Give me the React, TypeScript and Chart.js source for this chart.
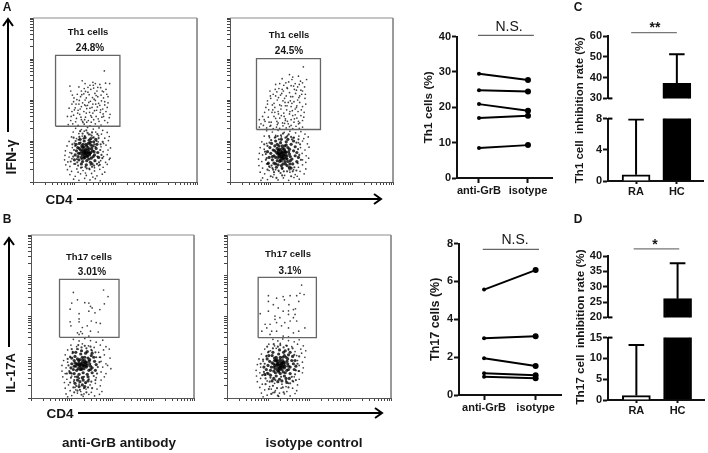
import React, { useEffect, useRef } from "react";
import { Chart, registerables } from "chart.js";

Chart.register(...registerables);
Chart.defaults.font.family = "'Liberation Sans', Arial, sans-serif";

// ---------- paired lines ----------
const pairLabels = ["anti-GrB", "isotype"];
const th1AntiGrb = [29.5, 24.8, 20.9, 17.0, 8.5];
const th1Isotype = [27.7, 24.5, 19.0, 17.6, 9.3];
const th17AntiGrb = [5.57, 3.0, 1.94, 1.15, 0.97];
const th17Isotype = [6.6, 3.1, 1.53, 1.04, 0.89];

// ---------- broken-axis bars ----------
const barLabels = ["RA", "HC"];
const th1RateMean = [0.8, 37.2];
const th1RateUpper = [7.9, 51.2];
const th17RateMean = [1.06, 26.1];
const th17RateUpper = [13.2, 37.6];

// ---------- flow gates, [low, high] in hundredths of a log10 decade ----------
const gateA1 = { x: [55, 212], y: [136, 309] };
const gateA2 = { x: [65, 222], y: [128, 301] };
const gateB1 = { x: [70, 216], y: [149, 291] };
const gateB2 = { x: [76, 218], y: [148, 296] };

// ---------- flow events, [x, y] in hundredths of a log10 decade ----------
// The Th17 gate dots are read one by one; the dense
// clouds hold a hand-placed sample following the shape of the originals, not every event.
const a1Gate = [[174,271],[120,247],[127,240],[146,243],[152,240],[163,238],[177,241],[187,240],[90,234],[92,222],[112,232],[118,222],[125,228],[134,231],[141,226],[148,229],[156,222],[165,230],[172,220],[178,226],[96,212],[108,214],[116,208],[124,215],[130,205],[137,213],[145,206],[151,216],[158,208],[166,212],[172,205],[180,214],[99,196],[105,190],[113,199],[121,193],[127,200],[133,187],[140,197],[146,190],[152,199],[160,192],[167,198],[175,188],[183,193],[88,180],[95,172],[103,181],[110,175],[118,184],[124,172],[131,179],[138,170],[144,182],[150,174],[157,183],[164,170],[170,178],[178,172],[188,165],[84,160],[92,150],[99,163],[106,155],[114,165],[121,148],[128,158],[135,150],[141,162],[148,152],[154,160],[161,148],[168,158],[175,150],[182,145],[86,140],[97,142],[110,138],[125,141],[139,137],[152,142],[166,139],[118,152],[130,168],[143,158],[112,190],[139,180],[126,188],[155,175],[101,176],[115,178],[129,186],[136,194],[149,202],[163,187],[171,166],[181,182],[93,160],[104,147],[117,158],[131,146],[146,168],[159,154],[172,160],[186,157],[107,201],[119,213],[128,221],[139,236],[154,211],[169,222],[183,208],[100,205],[134,219],[147,236],[158,231],[122,145],[109,168],[142,146],[126,152],[153,190],[175,196],[165,176],[95,190]];
const a1Halo = [[104,131],[118,128],[133,133],[147,129],[161,132],[170,126],[98,122],[112,118],[125,124],[139,116],[153,122],[167,117],[181,121],[94,110],[106,106],[120,112],[146,108],[160,113],[175,107],[186,111],[88,99],[101,95],[159,98],[172,94],[184,101],[83,88],[96,84],[166,86],[178,90],[189,83],[79,76],[90,72],[171,74],[183,78],[78,65],[88,61],[172,62],[181,67],[188,58],[77,54],[85,49],[95,57],[165,52],[177,48],[186,55],[80,42],[90,38],[100,44],[160,40],[171,36],[181,43],[84,30],[94,26],[107,32],[122,28],[137,33],[150,27],[163,31],[175,24],[90,18],[103,14],[116,20],[130,16],[143,21],[156,15],[169,19],[99,7],[112,4],[126,9],[139,5],[152,8],[164,3],[110,24],[128,22],[146,12],[120,36],[140,42],[150,35]];
const a1Mid = [[98,62],[103,88],[108,48],[111,103],[117,35],[121,118],[128,37],[133,120],[138,31],[143,113],[149,40],[155,100],[161,48],[164,78],[167,66],[107,56],[113,110],[119,56],[126,112],[131,33],[136,116],[144,37],[148,109],[156,44],[160,107],[165,92],[169,58],[100,78],[104,100],[96,92],[94,70],[92,50],[116,96],[123,106],[142,98],[150,92],[157,62],[103,44],[110,40],[152,86],[163,42],[170,98],[99,108],[115,124],[130,126],[144,121],[157,117]];
const a1Core = [[130,72],[122,78],[138,66],[115,70],[145,76],[127,60],[134,84],[110,62],[150,66],[119,88],[141,90],[124,68],[136,74],[128,80],[118,60],[142,58],[106,76],[154,82],[131,52],[113,94],[148,98],[125,100],[137,102],[103,66],[158,72],[121,50],[140,48],[109,84],[151,52],[129,92],[116,78],[133,62],[143,82],[126,74],[139,70],[120,66],[132,78],[112,54],[147,62],[105,92],[156,92],[124,86],[135,94],[101,54],[160,60],[118,44],[130,42],[144,44],[127,108],[141,106],[115,104],[153,104],[123,72],[129,66],[135,68],[127,76],[133,72],[125,62],[137,80],[119,74],[141,72],[121,84],[131,88],[111,70],[149,74],[113,82],[146,88],[128,70],[132,64],[124,58],[136,56],[122,92],[139,96]];

const a2Gate = [[180,281],[128,252],[146,262],[152,250],[168,258],[173,246],[160,240],[178,242],[188,250],[112,238],[120,228],[132,236],[140,230],[150,235],[158,226],[166,232],[174,224],[183,232],[98,222],[106,214],[115,220],[124,212],[131,222],[138,210],[146,218],[154,208],[161,216],[169,206],[176,214],[184,204],[92,198],[100,204],[108,192],[116,200],[122,188],[130,198],[136,186],[143,194],[150,184],[157,196],[164,186],[171,194],[178,184],[88,182],[95,176],[103,170],[110,182],[118,172],[125,178],[132,168],[139,176],[146,166],[153,174],[160,164],[167,172],[174,162],[182,170],[72,152],[80,160],[86,148],[94,158],[101,146],[108,160],[115,148],[122,156],[129,144],[136,154],[143,142],[150,152],[157,146],[164,156],[171,144],[178,150],[72,134],[82,138],[90,132],[98,136],[106,130],[114,134],[122,131],[130,137],[138,132],[146,135],[154,130],[162,136],[170,131],[178,134],[112,210],[134,204],[148,198],[126,162],[140,186],[160,178],[118,144],[154,162],[104,188],[166,200],[128,226],[144,244],[136,150],[110,170],[85,170],[92,190],[96,146],[105,176],[112,155],[119,166],[126,186],[133,160],[141,148],[147,172],[152,192],[158,154],[163,182],[168,148],[175,176],[181,158],[186,190],[99,210],[111,226],[119,206],[127,216],[135,194],[141,228],[149,208],[156,234],[163,224],[171,210],[178,222],[185,214],[122,240],[137,242],[154,256],[170,238],[100,138],[116,140],[134,143],[150,138],[168,142],[84,152],[76,142]];
const a2Halo = [[90,125],[104,122],[118,126],[133,121],[147,124],[161,120],[174,123],[184,117],[84,112],[97,108],[112,114],[126,110],[141,113],[155,108],[169,112],[181,106],[192,110],[78,98],[90,94],[168,96],[178,100],[190,93],[74,84],[84,80],[173,84],[184,78],[194,85],[72,70],[80,66],[177,70],[187,64],[70,56],[78,50],[178,54],[186,48],[193,58],[71,40],[80,34],[90,44],[168,36],[178,42],[186,32],[74,24],[85,20],[96,28],[108,18],[120,26],[134,16],[147,24],[160,18],[172,26],[182,20],[80,10],[92,6],[105,12],[118,5],[131,10],[144,4],[157,11],[170,7],[76,4],[98,36],[112,30],[128,32],[144,34],[156,30],[165,14]];
const a2Mid = [[88,54],[92,88],[96,38],[101,102],[106,30],[112,110],[119,28],[125,114],[132,26],[139,110],[146,30],[152,104],[158,36],[163,96],[167,80],[170,66],[88,68],[93,44],[97,96],[104,34],[110,108],[117,112],[130,118],[144,116],[157,108],[166,46],[172,92],[84,92],[86,74],[90,58],[108,24],[124,22],[140,26],[154,26],[100,14],[114,10],[128,16],[150,14],[92,30],[163,28],[174,54],[120,104],[136,108],[96,112],[150,110],[102,40],[168,104]];
const a2Core = [[129,64],[120,70],[138,58],[112,60],[146,68],[126,52],[134,76],[104,54],[152,56],[116,82],[142,84],[122,62],[136,66],[128,74],[116,52],[142,50],[100,70],[156,76],[130,44],[110,88],[150,92],[124,96],[138,98],[96,60],[160,64],[118,42],[140,40],[106,78],[154,44],[128,88],[114,72],[132,56],[144,74],[124,68],[138,72],[118,60],[132,70],[108,46],[148,52],[98,84],[160,86],[122,80],[134,88],[94,46],[164,50],[114,36],[128,34],[146,36],[126,104],[142,104],[112,100],[156,100],[121,66],[127,58],[134,62],[125,70],[131,66],[123,54],[136,74],[117,68],[140,64],[119,78],[129,82],[108,64],[148,62],[110,76],[146,80],[126,62],[130,58],[122,50],[135,50],[120,88],[138,90],[102,94],[164,72],[92,74],[168,60],[126,40],[112,44],[150,34],[136,44],[104,62],[147,44],[116,92],[128,72],[133,80],[124,76],[140,56],[118,74]];

const b1Gate = [[104,259],[178,265],[189,249],[100,233],[114,241],[132,234],[142,233],[146,225],[150,221],[96,218],[142,213],[157,209],[169,217],[180,231],[118,207],[118,194],[96,187],[98,177],[118,187],[126,173],[138,177],[148,189],[160,185],[170,183],[114,160],[122,163],[126,158],[146,164],[165,162],[142,152],[118,156]];
const b1Halo = [[104,144],[118,140],[132,146],[146,141],[160,137],[176,142],[98,130],[112,126],[126,133],[141,128],[155,124],[170,130],[184,126],[90,118],[102,114],[116,120],[150,116],[166,112],[178,118],[192,120],[84,106],[96,102],[168,100],[180,106],[194,98],[80,92],[90,88],[172,90],[184,84],[196,72],[76,80],[86,74],[176,76],[188,80],[76,66],[84,60],[172,64],[184,60],[78,52],[88,46],[100,54],[160,50],[172,44],[180,52],[82,38],[92,32],[105,40],[145,32],[158,36],[170,30],[84,24],[96,18],[108,26],[122,16],[135,22],[148,14],[162,22],[174,16],[86,10],[100,6],[114,12],[128,4],[142,9],[156,5],[168,9],[90,3],[110,20],[130,10],[118,34],[134,36]];
const b1Mid = [[92,80],[96,100],[100,60],[104,112],[108,52],[113,120],[118,48],[124,124],[130,52],[136,122],[142,46],[148,118],[154,54],[160,100],[164,76],[168,88],[94,66],[98,50],[102,110],[106,44],[111,30],[120,20],[130,24],[140,26],[150,24],[158,44],[104,26],[114,18],[96,38],[88,60],[90,96],[162,60],[100,120],[116,130],[132,128],[146,126],[158,112],[170,100],[124,8],[136,14],[106,14],[148,40]];
const b1Core = [[127,80],[118,86],[136,76],[110,78],[144,84],[124,70],[132,92],[104,70],[150,74],[114,96],[140,98],[120,76],[134,82],[126,88],[112,68],[142,68],[100,84],[156,90],[128,62],[108,102],[148,104],[122,108],[134,110],[98,74],[160,82],[118,58],[138,58],[106,92],[150,62],[126,100],[112,84],[130,72],[142,90],[122,82],[136,86],[116,72],[130,86],[106,60],[146,70],[100,98],[154,100],[120,94],[132,100],[96,62],[158,68],[114,52],[126,50],[140,52],[124,116],[138,114],[110,112],[150,110],[119,80],[125,74],[132,78],[123,84],[129,80],[121,70],[134,88],[115,82],[138,80],[117,92],[127,94],[106,78],[146,78],[108,86],[144,94],[128,44],[120,40],[134,38],[114,44],[126,32],[140,42],[108,36],[118,28],[132,28]];

const b2Gate = [[182,277],[101,251],[178,257],[188,254],[121,245],[137,249],[154,251],[170,251],[101,237],[113,229],[140,241],[151,229],[175,237],[81,207],[101,213],[125,221],[137,213],[150,214],[162,217],[167,219],[166,205],[117,201],[129,197],[150,205],[162,197],[93,181],[105,181],[117,193],[121,185],[141,185],[154,189],[170,189],[190,172],[85,164],[97,172],[109,164],[121,164],[133,177],[150,172],[175,164],[105,156],[137,152],[150,150],[162,160]];
const b2Halo = [[112,144],[124,140],[136,145],[150,141],[164,138],[176,143],[102,132],[116,128],[130,134],[144,129],[158,126],[172,132],[186,128],[92,120],[106,116],[120,122],[150,118],[166,114],[180,120],[192,116],[84,108],[96,104],[170,104],[182,110],[190,100],[78,96],[88,90],[172,92],[184,88],[74,82],[82,76],[176,80],[186,74],[71,68],[80,62],[174,66],[184,62],[72,54],[82,48],[94,56],[164,52],[176,46],[74,40],[86,34],[98,42],[150,36],[162,40],[172,32],[80,26],[92,20],[104,28],[118,18],[132,24],[146,16],[160,24],[170,18],[84,12],[98,7],[112,13],[126,4],[140,10],[154,5],[166,11],[88,3],[108,22],[128,12],[144,28],[116,36],[134,34]];
const b2Mid = [[92,84],[96,102],[98,62],[102,114],[106,50],[112,122],[118,44],[124,126],[132,52],[138,124],[144,42],[150,120],[158,52],[164,106],[168,68],[172,84],[90,64],[94,48],[100,112],[104,40],[112,30],[122,24],[136,26],[150,26],[160,42],[102,22],[116,14],[94,34],[86,56],[88,94],[166,58],[98,126],[114,132],[130,130],[146,128],[160,122],[176,102],[124,6],[138,14],[108,10],[154,36],[168,44],[82,84],[176,66]];
const b2Core = [[131,80],[122,86],[140,74],[114,76],[148,84],[127,68],[136,92],[106,68],[154,76],[116,98],[144,100],[124,74],[138,82],[130,88],[114,66],[146,68],[100,80],[158,92],[130,60],[110,104],[150,106],[126,108],[138,112],[96,70],[162,84],[120,54],[140,54],[104,90],[154,60],[130,100],[114,84],[134,70],[146,90],[124,82],[140,86],[118,72],[134,86],[106,56],[150,70],[98,96],[160,102],[122,94],[136,100],[92,58],[164,70],[114,48],[128,46],[144,48],[128,118],[142,116],[112,112],[154,112],[121,80],[128,74],[135,78],[125,84],[131,76],[123,68],[138,88],[117,80],[142,78],[119,92],[130,94],[108,76],[150,78],[110,86],[148,96],[128,80],[133,84],[126,64],[137,64],[120,100],[140,104],[102,104],[166,92],[90,76],[168,78],[124,40],[110,42],[146,38],[134,42],[100,60],[152,48],[116,92],[130,72],[136,76],[124,90],[142,62],[118,62]];

// ---------- shared styling ----------
const INK = "#161616";
const decade = (h: number) => 10 ** (h / 100);
const logTicks: number[] = [];
for (let d = 0; d < 4; d++) for (let m = 1; m < 10; m++) logTicks.push(m * 10 ** d);
logTicks.push(10000);

type Box = { L: number; T: number; R: number; B: number; mL: number; mB: number; mT: number; mR: number };

const flowConfig = (
  gate: { x: number[]; y: number[] },
  gated: number[][],
  halo: number[][],
  mid: number[][],
  core: number[][]
) => {
  const dots = (arr: number[][], r: number, color: string) => ({
    type: "scatter",
    data: arr.map(([x, y]) => ({ x: decade(x), y: decade(y) })),
    pointRadius: r,
    pointBorderWidth: 0,
    pointBackgroundColor: color,
    showLine: false,
  });
  const [x0, x1] = gate.x.map(decade);
  const [y0, y1] = gate.y.map(decade);
  const axis = (fit: (s: any) => void) => ({
    type: "logarithmic",
    min: 1,
    max: 10000,
    afterBuildTicks: (s: any) => {
      s.ticks = logTicks.map((value) => ({ value }));
    },
    ticks: { display: false, autoSkip: false },
    grid: { drawOnChartArea: false, tickLength: 3, tickWidth: 1, tickColor: "#444" },
    border: { color: "#555", width: 1 },
    afterFit: fit,
  });
  return {
    type: "scatter",
    data: {
      datasets: [
        {
          type: "line",
          data: [
            { x: x0, y: y0 }, { x: x1, y: y0 }, { x: x1, y: y1 }, { x: x0, y: y1 }, { x: x0, y: y0 },
          ],
          borderColor: "#666",
          borderWidth: 1.3,
          pointRadius: 0,
          tension: 0,
        },
        {
          type: "line",
          data: [{ x: 1, y: 10000 }, { x: 10000, y: 10000 }, { x: 10000, y: 1 }],
          borderColor: "#8c8c8c",
          borderWidth: 1,
          pointRadius: 0,
          clip: false,
          tension: 0,
        },
        dots(gated, 0.85, "rgba(0,0,0,0.75)"),
        dots(halo, 0.85, "rgba(0,0,0,0.75)"),
        dots(mid, 1.1, "rgba(0,0,0,0.75)"),
        dots(core, 1.6, "rgba(0,0,0,0.8)"),
      ],
    },
    scales: {
      x: axis((s: any) => { s.height = 4; }),
      y: axis((s: any) => { s.width = 4; }),
    },
  };
};

const tickFont = { size: 11, weight: "bold" as const };

const yAxis = (min: number, max: number, step: number, mL: number, title?: string, titleSize = 12) => ({
  type: "linear",
  min,
  max,
  ticks: { stepSize: step, font: tickFont, color: INK, padding: 1, autoSkip: false },
  grid: { drawOnChartArea: false, tickLength: 5, tickWidth: 2, tickColor: "#111" },
  border: { color: "#111", width: 2 },
  title: title
    ? { display: true, text: title, color: INK, font: { size: titleSize, weight: "bold" as const }, padding: 0 }
    : { display: false },
  afterFit: (s: any) => { s.width = mL; },
});

const xAxis = (min: number, max: number, labels: string[], mB: number, tick: number) => ({
  type: "linear",
  min,
  max,
  offset: false,
  afterBuildTicks: (s: any) => {
    s.ticks = labels.map((_, value) => ({ value }));
  },
  ticks: {
    font: tickFont,
    color: INK,
    padding: 1,
    autoSkip: false,
    maxRotation: 0,
    callback: (v: number) => labels[v],
  },
  grid: { offset: false, drawOnChartArea: false, tickLength: tick, tickWidth: 2, tickColor: "#111" },
  border: { color: "#111", width: 2 },
  afterFit: (s: any) => { s.height = mB; },
});

const pairConfig = (
  anti: number[],
  iso: number[],
  yMax: number,
  step: number,
  title: string,
  titleSize: number,
  xMin: number,
  xMax: number,
  mL: number,
  bracket: { x: number[]; y: number }
) => ({
  type: "line",
  data: {
    datasets: [
      ...anti.map((a, i) => ({
        data: [{ x: 0, y: a }, { x: 1, y: iso[i] }],
        borderColor: "#000",
        backgroundColor: "#000",
        borderWidth: 2,
        pointRadius: [2, 3],
        pointBorderWidth: 0,
        clip: false,
        tension: 0,
      })),
      {
        data: bracket.x.map((x) => ({ x, y: bracket.y })),
        borderColor: "#666",
        borderWidth: 1.2,
        pointRadius: 0,
        clip: false,
        tension: 0,
      },
    ],
  },
  scales: { x: xAxis(xMin, xMax, pairLabels, 20, 5), y: yAxis(0, yMax, step, mL, title, titleSize) },
});

const barConfig = (
  means: number[],
  uppers: number[],
  yMin: number,
  yMax: number,
  step: number,
  labels: boolean,
  breakValue: number,
  bracket?: { x: number[]; y: number }
) => {
  const whisker = (i: number) => ({
    type: "line",
    data: [
      { x: i, y: means[i] },
      { x: i, y: uppers[i] },
      { x: i - 0.19, y: uppers[i] },
      { x: i + 0.19, y: uppers[i] },
    ],
    borderColor: "#000",
    borderWidth: 2,
    pointRadius: 0,
    clip: 0,
    tension: 0,
  });
  const datasets: any[] = [
    whisker(0),
    whisker(1),
    {
      type: "line",
      data: [{ x: -0.688, y: breakValue }, { x: -0.58, y: breakValue }],
      borderColor: "#000",
      borderWidth: 2,
      pointRadius: 0,
      clip: false,
      tension: 0,
    },
    {
      type: "bar",
      data: means.map((y, x) => ({ x, y })),
      backgroundColor: ["#fff", "#000"],
      borderColor: "#000",
      borderWidth: 2,
      barThickness: 28,
      clip: 0,
    },
  ];
  if (bracket) {
    datasets.push({
      type: "line",
      data: bracket.x.map((x) => ({ x, y: bracket.y })),
      borderColor: "#777",
      borderWidth: 1.3,
      pointRadius: 0,
      clip: false,
      tension: 0,
    });
  }
  const x: any = labels
    ? xAxis(-0.688, 1.641, barLabels, 20, 3)
    : { type: "linear", min: -0.688, max: 1.641, offset: false, display: false };
  return {
    type: "bar",
    data: { datasets },
    scales: { x, y: yAxis(yMin, yMax, step, 24) },
  };
};

function Plot({ box, config }: { box: Box; config: any }) {
  const ref = useRef<HTMLCanvasElement>(null);
  const width = box.R - box.L + box.mL + box.mR;
  const height = box.B - box.T + box.mT + box.mB;
  useEffect(() => {
    const hiddenX = config.scales.x.display === false;
    const chart = new Chart(ref.current as HTMLCanvasElement, {
      type: config.type,
      data: config.data,
      options: {
        animation: false,
        responsive: false,
        maintainAspectRatio: false,
        layout: {
          padding: { left: 0, top: box.mT, right: box.mR, bottom: hiddenX ? box.mB : 0 },
        },
        plugins: { legend: { display: false }, tooltip: { enabled: false } },
        scales: config.scales,
      },
    } as any);
    return () => chart.destroy();
  }, []);
  return (
    <canvas
      ref={ref}
      width={width}
      height={height}
      style={{ position: "absolute", left: box.L - box.mL, top: box.T - box.mT, width, height }}
    />
  );
}

function Text({ x, y, size, bold = true, rotate = 0, children }: any) {
  return (
    <div
      style={{
        position: "absolute",
        left: x,
        top: y,
        transform: `translate(-50%, -50%) rotate(${rotate}deg)`,
        fontFamily: "'Liberation Sans', Arial, sans-serif",
        fontSize: size,
        fontWeight: bold ? 700 : 400,
        color: INK,
        whiteSpace: "pre",
        lineHeight: 1,
      }}
    >
      {children}
    </div>
  );
}

const flowBox = (L: number, T: number, R: number, B: number): Box => ({ L, T, R, B, mL: 4, mB: 4, mT: 2, mR: 2 });

const configs = {
  a1: flowConfig(gateA1, a1Gate, a1Halo, a1Mid, a1Core),
  a2: flowConfig(gateA2, a2Gate, a2Halo, a2Mid, a2Core),
  b1: flowConfig(gateB1, b1Gate, b1Halo, b1Mid, b1Core),
  b2: flowConfig(gateB2, b2Gate, b2Halo, b2Mid, b2Core),
  th1: pairConfig(th1AntiGrb, th1Isotype, 40, 10, "Th1 cells (%)", 11.8, -0.449, 1.49, 35, { x: [-0.02, 1.12], y: 40.36 }),
  th17: pairConfig(th17AntiGrb, th17Isotype, 8, 2, "Th17 cells (%)", 12.5, -0.486, 1.492, 31, { x: [-0.025, 1.065], y: 7.7 }),
  cTop: barConfig(th1RateMean, th1RateUpper, 30, 60, 10, false, 30, { x: [-0.12, 1.0], y: 61.6 }),
  cLow: barConfig(th1RateMean, th1RateUpper, 0, 8, 4, true, 8),
  dTop: barConfig(th17RateMean, th17RateUpper, 20, 40, 5, false, 20, { x: [-0.065, 1.04], y: 42.3 }),
  dLow: barConfig(th17RateMean, th17RateUpper, 0, 15, 5, true, 15),
};

function Arrow({ x1, y1, x2, y2 }: { x1: number; y1: number; x2: number; y2: number }) {
  const horizontal = y1 === y2;
  const head = horizontal
    ? `M${x2 - 7} ${y2 - 5} L${x2} ${y2} L${x2 - 7} ${y2 + 5}`
    : `M${x2 - 5} ${y2 + 7} L${x2} ${y2} L${x2 + 5} ${y2 + 7}`;
  return (
    <>
      <line x1={x1} y1={y1} x2={x2} y2={y2} stroke="#000" strokeWidth={2} />
      <path d={head} fill="none" stroke="#000" strokeWidth={2} />
    </>
  );
}

export default function App() {
  return (
    <div style={{ position: "absolute", left: 0, top: 0, width: 708, height: 453, background: "#fff", overflow: "hidden" }}>
      <Plot box={flowBox(33, 16, 199, 182)} config={configs.a1} />
      <Plot box={flowBox(230, 16, 395, 182)} config={configs.a2} />
      <Plot box={flowBox(31, 233, 196, 398)} config={configs.b1} />
      <Plot box={flowBox(227, 233, 393, 398)} config={configs.b2} />

      <Plot box={{ L: 457, T: 35, R: 552, B: 178, mL: 35, mB: 20, mT: 6, mR: 4 }} config={configs.th1} />
      <Plot box={{ L: 459, T: 242, R: 561, B: 395, mL: 31, mB: 20, mT: 6, mR: 4 }} config={configs.th17} />

      <Plot box={{ L: 608, T: 36, R: 703, B: 102, mL: 24, mB: 4, mT: 8, mR: 3 }} config={configs.cTop} />
      <Plot box={{ L: 608, T: 115, R: 703, B: 181, mL: 24, mB: 20, mT: 4, mR: 3 }} config={configs.cLow} />
      <Plot box={{ L: 608, T: 256, R: 704, B: 321, mL: 24, mB: 4, mT: 12, mR: 3 }} config={configs.dTop} />
      <Plot box={{ L: 608, T: 334, R: 704, B: 400, mL: 24, mB: 20, mT: 4, mR: 3 }} config={configs.dLow} />

      <svg width={708} height={453} style={{ position: "absolute", left: 0, top: 0 }}>
        <Arrow x1={8} y1={132} x2={8} y2={19} />
        <Arrow x1={77} y1={199} x2={381} y2={199} />
        <Arrow x1={9} y1={347} x2={9} y2={238} />
        <Arrow x1={78} y1={413} x2={382} y2={413} />
      </svg>

      <Text x={7} y={7} size={12}>A</Text>
      <Text x={7} y={219} size={12}>B</Text>
      <Text x={578} y={7} size={12}>C</Text>
      <Text x={578} y={219} size={12}>D</Text>

      <Text x={88} y={32} size={9.5}>Th1 cells</Text>
      <Text x={90} y={48} size={10}>24.8%</Text>
      <Text x={289} y={35} size={9.5}>Th1 cells</Text>
      <Text x={289} y={51} size={10}>24.5%</Text>
      <Text x={89} y={257} size={9.5}>Th17 cells</Text>
      <Text x={92} y={272} size={10}>3.01%</Text>
      <Text x={288} y={254} size={9.5}>Th17 cells</Text>
      <Text x={290} y={271} size={10}>3.1%</Text>

      <Text x={11} y={157} size={14} rotate={-90}>IFN-γ</Text>
      <Text x={59} y={200} size={13.5}>CD4</Text>
      <Text x={10} y={373} size={13} rotate={-90}>IL-17A</Text>
      <Text x={60} y={414} size={13.5}>CD4</Text>
      <Text x={119} y={443} size={13.5}>anti-GrB antibody</Text>
      <Text x={314} y={443} size={13.5}>isotype control</Text>

      <Text x={509} y={26} size={14} bold={false}>N.S.</Text>
      <Text x={515} y={239} size={14} bold={false}>N.S.</Text>
      <Text x={655} y={27} size={14}>**</Text>
      <Text x={655} y={244} size={14}>*</Text>

      <Text x={580} y={110} size={11.5} rotate={-90}>{"Th1 cell  inhibition rate (%)"}</Text>
      <Text x={580} y={327} size={11.7} rotate={-90}>{"Th17 cell  inhibition rate (%)"}</Text>
    </div>
  );
}
